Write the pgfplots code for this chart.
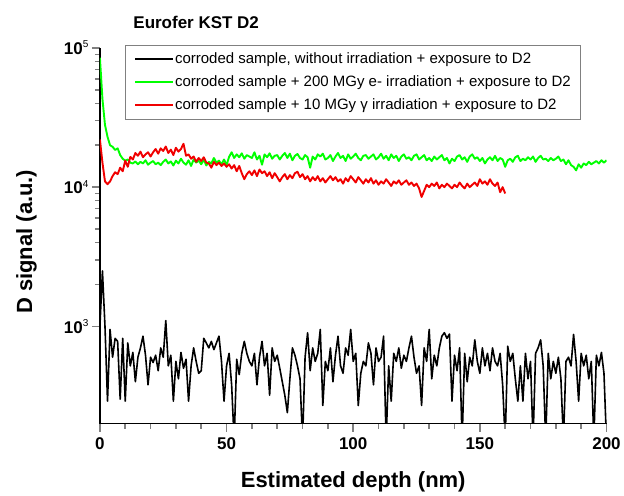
\documentclass[border=0pt]{standalone}
\usepackage{fontspec}
\setmainfont{Liberation Sans}
\usepackage{pgfplots}
\usepackage{pgfplotstable}
\pgfplotsset{compat=1.18}

\definecolor{lgreen}{RGB}{0,255,0}
\definecolor{lred}{RGB}{240,0,0}

% black: corroded, no irradiation
\pgfplotstableread{
x y
0 1000
1 2500
2 1000
3 290
4 950
5 600
6 820
7 780
8 300
9 820
10 290
11 760
12 520
13 650
14 400
15 600
16 700
17 850
18 620
19 380
20 600
21 550
22 620
23 480
24 700
25 600
26 1100
27 520
28 620
29 290
30 560
31 420
32 650
33 500
34 580
35 290
36 520
37 700
38 560
39 460
40 480
41 820
42 760
43 700
44 780
45 680
46 760
47 850
48 560
49 290
50 520
51 640
52 380
53 150
54 580
55 450
56 640
57 780
58 640
59 560
60 520
61 640
62 380
63 600
64 780
65 520
66 640
67 320
68 700
69 560
70 620
71 500
72 400
73 320
74 240
75 420
76 700
77 620
78 520
79 420
80 150
81 600
82 900
83 480
84 700
85 560
86 640
87 950
88 270
89 560
90 480
91 700
92 400
93 620
94 850
95 520
96 460
97 700
98 620
99 950
100 560
101 640
102 270
103 460
104 560
105 520
106 760
107 640
108 380
109 700
110 560
111 600
112 850
113 150
114 520
115 290
116 640
117 560
118 700
119 500
120 620
121 560
122 700
123 850
124 600
125 460
126 520
127 270
128 700
129 560
130 950
131 420
132 620
133 520
134 700
135 850
136 900
137 820
138 880
139 290
140 620
141 480
142 700
143 150
144 640
145 400
146 600
147 520
148 800
149 560
150 460
151 700
152 520
153 640
154 480
155 700
156 560
157 520
158 640
159 380
160 150
161 720
162 560
163 640
164 420
165 290
166 520
167 290
168 640
169 420
170 560
171 150
172 640
173 700
174 800
175 520
176 150
177 640
178 420
179 560
180 460
181 600
182 420
183 150
184 560
185 600
186 520
187 875
188 560
189 290
190 640
191 520
192 620
193 420
194 560
195 150
196 620
197 520
198 650
199 460
200 150
}\blackdata

% green: 200 MGy e- irradiation
\pgfplotstableread{
x y
0 85000
1 43000
2 28000
3 23000
4 20000
5 19500
6 18500
7 19000
8 17000
9 16000
10 15500
11 15800
12 15000
13 14800
14 15300
15 14600
16 15200
17 14800
18 15600
19 14500
20 15000
21 15400
22 14600
23 15000
24 14400
25 15200
26 15800
27 14800
28 15300
29 14300
30 15500
31 14800
32 16000
33 15000
34 14500
35 15600
36 14200
37 15800
38 15000
39 15500
40 14600
41 15800
42 14300
43 15200
44 14800
45 16200
46 15000
47 15500
48 14600
49 15800
50 14400
51 16500
52 17800
53 16200
54 17200
55 16400
56 17500
57 16000
58 17000
59 16600
60 16200
61 17800
62 15800
63 16800
64 14500
65 17200
66 16400
67 17500
68 16000
69 16800
70 17000
71 15800
72 16800
73 17600
74 16200
75 17400
76 15600
77 16800
78 17300
79 16200
80 15800
81 17000
82 16400
83 13800
84 16600
85 15800
86 17200
87 16600
88 17400
89 15800
90 16200
91 17000
92 15400
93 16600
94 17600
95 16200
96 16800
97 15400
98 17200
99 16000
100 16600
101 17400
102 16200
103 15600
104 16800
105 17000
106 16000
107 16600
108 17200
109 15800
110 16400
111 17400
112 16000
113 16800
114 15600
115 17200
116 16200
117 16800
118 15400
119 16600
120 17200
121 16000
122 16400
123 15600
124 16800
125 17200
126 15800
127 16400
128 17000
129 15600
130 16200
131 15400
132 16600
133 15800
134 16400
135 17000
136 15600
137 16200
138 14800
139 16000
140 15400
141 16600
142 17000
143 15800
144 16400
145 15200
146 16600
147 17200
148 16000
149 16400
150 15400
151 16200
152 14800
153 15800
154 16400
155 15600
156 16800
157 15400
158 16200
159 15800
160 14000
161 15600
162 16000
163 15200
164 16400
165 16800
166 15400
167 16000
168 15600
169 16400
170 15800
171 16600
172 15200
173 16200
174 16800
175 15800
176 16000
177 15400
178 16200
179 15600
180 16000
181 16600
182 15400
183 15800
184 14600
185 15600
186 14400
187 14000
188 13200
189 14600
190 13800
191 14800
192 14400
193 15200
194 14600
195 15000
196 15400
197 14800
198 15600
199 15000
200 15600
}\greendata

% red: 10 MGy gamma irradiation
\pgfplotstableread{
x y
0 22000
1 15000
2 11000
3 10500
4 11000
5 12000
6 12800
7 12400
8 13800
9 13000
10 15500
11 14000
12 16500
13 15800
14 17600
15 16800
16 18000
17 16400
18 17200
19 17800
20 16600
21 17800
22 18800
23 17400
24 19000
25 18200
26 19600
27 17600
28 18600
29 17000
30 19200
31 18000
32 18800
33 20500
34 16800
35 17200
36 16000
37 16600
38 15200
39 16200
40 15400
41 16400
42 15000
43 14800
44 13800
45 15200
46 14400
47 15000
48 14200
49 14800
50 14000
51 14600
52 13600
53 14400
54 13000
55 14200
56 12600
57 11400
58 12400
59 13000
60 12200
61 13200
62 12000
63 13400
64 12600
65 13000
66 12000
67 12800
68 11600
69 12600
70 11800
71 11000
72 11800
73 12400
74 11400
75 12200
76 11600
77 12600
78 12900
79 11800
80 12400
81 11400
82 12000
83 11000
84 11800
85 11200
86 12000
87 11000
88 11600
89 10800
90 11400
91 12000
92 11200
93 11800
94 11000
95 11400
96 10600
97 11600
98 11000
99 12000
100 11400
101 10800
102 11800
103 11200
104 10600
105 11400
106 10800
107 11600
108 10600
109 11200
110 10400
111 11000
112 10600
113 11400
114 10800
115 10200
116 11000
117 10600
118 11200
119 10400
120 10800
121 11200
122 10400
123 10800
124 10200
125 10600
126 9800
127 8500
128 9400
129 10400
130 10000
131 10600
132 10200
133 10800
134 9800
135 10400
136 10000
137 10600
138 10200
139 9800
140 10400
141 10000
142 10800
143 10200
144 9800
145 10600
146 10000
147 10400
148 10800
149 10200
150 11400
151 10600
152 11000
153 10400
154 11400
155 10600
156 10200
157 10800
158 9200
159 10000
160 9000
}\reddata

\begin{document}
\begin{tikzpicture}
\begin{axis}[
    name=ax,
    scale only axis,
    width=507pt, height=376pt,
    xmin=0, xmax=200,
    ymode=log, ymin=200, ymax=1e5,
    axis x line=bottom,
    axis y line=left,
    axis line style={line width=1.5pt, -},
    xtick={0,50,100,150,200},
    xticklabels={0,50,100,150,200},
    minor x tick num=4,
    ytick={1e3,1e4,1e5},
    yticklabels={10\raisebox{0.75ex}{\fontsize{10}{10}\selectfont\mdseries 3},
                 10\raisebox{0.75ex}{\fontsize{10}{10}\selectfont\mdseries 4},
                 10\raisebox{0.75ex}{\fontsize{10}{10}\selectfont\mdseries 5}},
    tick align=outside,
    major tick length=8pt,
    minor tick length=5pt,
    tick style={line width=1.5pt},
    ticklabel style={font=\bfseries\fontsize{17}{17}\selectfont},
    xticklabel style={yshift=-2pt},
    xlabel={Estimated depth (nm)},
    ylabel={D signal (a.u.)},
    label style={font=\bfseries\fontsize{22}{22}\selectfont},
    xlabel style={at={(axis description cs:0.5,-0.170)}, anchor=base},
    ylabel style={at={(axis description cs:-0.134,0.484)}, anchor=base, rotate=0},
    legend style={
        at={(axis description cs:0.0493,1.008)},
        anchor=north west,
        draw=gray, line width=0.8pt,
        font=\fontsize{15}{18}\selectfont,
        inner xsep=9pt, inner ysep=5pt,
        row sep=5pt,
        nodes={inner sep=1pt, text height=12pt, text depth=4pt},
    },
    legend cell align=left,
    legend image code/.code={\draw[#1, line width=1.8pt] (0pt,0pt) -- (38pt,0pt);},
]

\addplot[black, line width=1.6pt, line join=round] table[x=x, y=y] {\blackdata};
\addplot[lgreen, line width=1.9pt, line join=round] table[x=x, y=y] {\greendata};
\addplot[lred, line width=1.9pt, line join=round] table[x=x, y=y] {\reddata};

\legend{{corroded sample, without irradiation + exposure to D2},
        {corroded sample + 200 MGy e- irradiation + exposure to D2},
        {corroded sample + 10 MGy γ irradiation + exposure to D2}}
\end{axis}
\node[anchor=base west, font=\bfseries\fontsize{17}{17}\selectfont]
    at ([xshift=30pt, yshift=395pt]ax.south west) {Eurofer KST D2};
% fix the page to the reference's margins round the plot area
\path ([xshift=-100pt, yshift=-69pt]ax.south west);
\path ([xshift=524pt, yshift=424pt]ax.south west);
\end{tikzpicture}
\end{document}
